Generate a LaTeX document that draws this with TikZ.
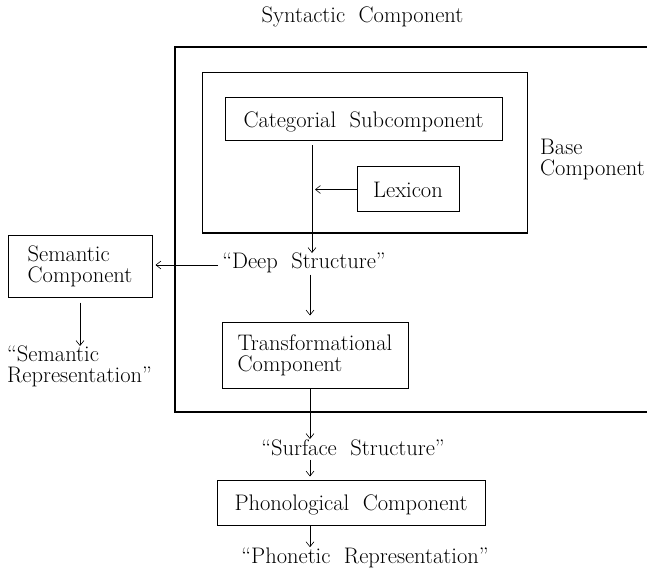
\documentclass[tikz,border=0pt]{standalone}
\usetikzlibrary{arrows.meta}
\begin{document}
\begin{tikzpicture}[x=1pt,y=-1pt,
  txt/.style={font={\fontsize{22.5}{21}\selectfont\spaceskip=0.6em\relax}},
  lbl/.style={txt, inner sep=0pt},
  box/.style={txt, draw, line width=1pt, inner sep=0pt},
  arr/.style={-{Straight Barb[length=5pt,width=8pt]}, line width=0.6pt}]
\useasboundingbox (0,0) rectangle (647,569);
% outer syntactic component frame (open on the right)
\draw[line width=1.1pt] (647,47) -- (175,47) -- (175,412) -- (647,412);
\node[lbl, anchor=base] (syn) at (362.5,23) {Syntactic Component};
% base component
\node[box, minimum width=325pt, minimum height=160pt] (base) at (364.5,153) {};
\node[lbl, anchor=north west, align=left] (basel) at (540,139) {Base\\Component};
\node[box, minimum width=277pt, minimum height=43pt, text depth=0pt] (cat) at (363.5,119.5) {Categorial Subcomponent};
\node[box, minimum width=102pt, minimum height=45pt, text depth=0pt] (lex) at (408,189.5) {Lexicon};
% deep structure
\node[lbl, anchor=base] (ds) at (304,268) {``Deep Structure''};
\coordinate (dsin) at (312,253);
\draw[arr] (cat.south -| dsin) ++(0,4) -- (dsin);
\draw[arr] (lex.west) -- (lex.west -| 315,0);
% semantic
\node[box, minimum width=144pt, minimum height=62pt, align=left] (sem) at (80,266) {Semantic\\Component};
\coordinate (dsl) at (218,265);
\draw[arr, shorten >=3pt] (dsl) -- (sem.east |- dsl);
\node[lbl, anchor=north west, align=left] (semrep) at (7,346) {``Semantic\\Representation''};
\draw[arr, shorten <=5pt] (sem.south) -- (semrep.north -| sem.south);
% transformational
\coordinate (tx) at (310,0);
\node[box, minimum width=186pt, minimum height=66pt, align=left] (trans) at (315,355) {Transformational\\Component};
\draw[arr, shorten >=6pt] (ds.south -| tx) ++(0,2) -- (trans.north -| tx);
% surface
\node[lbl, anchor=base] (ss) at (353,455) {``Surface Structure''};
\draw[arr] (trans.south -| tx) -- (ss.north -| tx);
% phonological
\node[box, minimum width=268pt, minimum height=45pt, text depth=0pt] (phon) at (351,502.5) {Phonological Component};
\draw[arr, shorten <=4pt, shorten >=3pt] (ss.south -| tx) -- (phon.north -| tx);
\node[lbl, anchor=base] (pr) at (365,563) {``Phonetic Representation''};
\draw[arr] (phon.south -| tx) -- (pr.north -| tx);
\end{tikzpicture}
\end{document}
